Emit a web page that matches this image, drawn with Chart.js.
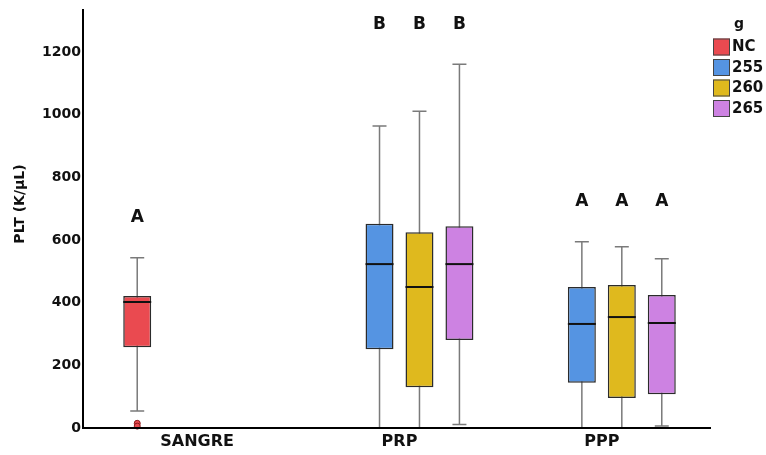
<!DOCTYPE html>
<html>
<head>
<meta charset="utf-8">
<script src="https://cdn.jsdelivr.net/npm/chart.js@4.4.0/dist/chart.umd.min.js"></script>
<style>
  html, body { margin: 0; padding: 0; background: #fff; }
</style>
</head>
<body>
<canvas id="myChart" width="766" height="455"></canvas>
<script>
// categories on the x axis and the four groups (legend "g")
var categories = ['SANGRE', 'PRP', 'PPP'];
var groups = ['NC', '255', '260', '265'];
var yTicks = [0, 200, 400, 600, 800, 1000, 1200];

// box stats per category: [min, q1, median, q3, max], null = no box
var statsNC  = [[54, 258, 402, 421, 543], null, null];
var stats255 = [null, [0, 251, 523, 652, 964], [0, 144, 332, 450, 594]];
var stats260 = [null, [0, 130, 450, 625, 1011], [0, 96, 354, 456, 578]];
var stats265 = [null, [11, 281, 523, 644, 1161], [6, 108, 335, 424, 540]];

var outliersNC = [[15, 6], [], []];

// significance letters above each box
var lettersNC  = ['A', '', ''];
var letters255 = ['', 'B', 'A'];
var letters260 = ['', 'B', 'A'];
var letters265 = ['', 'B', 'A'];

var FONT = '"DejaVu Sans", sans-serif';

function makeSet(label, stats, color, letters, outliers) {
	return {
		label: label,
		data: stats.map(function (s) { return s ? [s[1], s[3]] : null; }),
		stats: stats,
		letters: letters,
		outliers: outliers || [[], [], []],
		backgroundColor: color,
		borderColor: '#2b2b2b',
		borderWidth: 1.5,
		borderSkipped: false,
		categoryPercentage: 0.79,
		barPercentage: 0.7
	};
}

var boxPlot = {
	id: 'boxPlot',
	beforeDatasetsDraw: function (chart) {
		var ctx = chart.ctx, y = chart.scales.y;
		ctx.save();
		ctx.strokeStyle = '#7a7a7a';
		ctx.lineWidth = 1.5;
		chart.data.datasets.forEach(function (ds, di) {
			var meta = chart.getDatasetMeta(di);
			ds.stats.forEach(function (s, i) {
				if (!s) return;
				var bar = meta.data[i];
				var cap = bar.width / 4;
				ctx.beginPath();
				ctx.moveTo(bar.x, y.getPixelForValue(s[0]));
				ctx.lineTo(bar.x, y.getPixelForValue(s[4]));
				[s[0], s[4]].forEach(function (v) {
					var py = y.getPixelForValue(v);
					ctx.moveTo(bar.x - cap, py);
					ctx.lineTo(bar.x + cap, py);
				});
				ctx.stroke();
			});
		});
		ctx.restore();
	},
	afterDatasetsDraw: function (chart) {
		var ctx = chart.ctx, y = chart.scales.y;
		ctx.save();
		// medians and outliers
		chart.data.datasets.forEach(function (ds, di) {
			var meta = chart.getDatasetMeta(di);
			ds.stats.forEach(function (s, i) {
				if (!s) return;
				var bar = meta.data[i];
				var py = y.getPixelForValue(s[2]);
				ctx.strokeStyle = '#111';
				ctx.lineWidth = 2;
				ctx.beginPath();
				ctx.moveTo(bar.x - bar.width / 2, py);
				ctx.lineTo(bar.x + bar.width / 2, py);
				ctx.stroke();
				ds.outliers[i].forEach(function (v) {
					ctx.beginPath();
					ctx.arc(bar.x, y.getPixelForValue(v), 3, 0, Math.PI * 2);
					ctx.fillStyle = ds.backgroundColor;
					ctx.fill();
					ctx.lineWidth = 1;
					ctx.strokeStyle = '#8a1a1a';
					ctx.stroke();
				});
			});
		});
		// letters: 40px above the highest whisker of each category
		ctx.fillStyle = '#111';
		ctx.font = 'bold 17px ' + FONT;
		ctx.textAlign = 'center';
		ctx.textBaseline = 'middle';
		categories.forEach(function (c, i) {
			var top = Infinity;
			chart.data.datasets.forEach(function (ds) {
				if (ds.stats[i]) top = Math.min(top, y.getPixelForValue(ds.stats[i][4]));
			});
			chart.data.datasets.forEach(function (ds, di) {
				if (!ds.letters[i]) return;
				var bar = chart.getDatasetMeta(di).data[i];
				ctx.fillText(ds.letters[i], bar.x, top - 40);
			});
		});
		ctx.restore();
	},
	afterDraw: function (chart) {
		var ctx = chart.ctx, a = chart.chartArea;
		ctx.save();
		// axis lines
		ctx.strokeStyle = '#000';
		ctx.lineWidth = 2;
		ctx.beginPath();
		ctx.moveTo(a.left - 13, a.top);
		ctx.lineTo(a.left - 13, a.bottom);
		ctx.lineTo(a.right + 8, a.bottom);
		ctx.stroke();
		// y axis title
		ctx.fillStyle = '#111';
		ctx.font = 'bold 14px ' + FONT;
		ctx.textAlign = 'center';
		ctx.textBaseline = 'middle';
		ctx.translate(20, 204);
		ctx.rotate(-Math.PI / 2);
		ctx.fillText('PLT (K/μL)', 0, 0);
		ctx.setTransform(1, 0, 0, 1, 0, 0);
		// legend
		ctx.fillText('g', 739, 24);
		ctx.textAlign = 'left';
		ctx.font = 'bold 15px ' + FONT;
		chart.data.datasets.forEach(function (ds, i) {
			var cy = 46.5 + i * 20.5;
			ctx.fillStyle = ds.backgroundColor;
			ctx.fillRect(713, cy - 8, 17, 17);
			ctx.strokeStyle = '#444';
			ctx.lineWidth = 1;
			ctx.strokeRect(713.5, cy - 7.5, 16, 16);
			ctx.fillStyle = '#111';
			ctx.fillText(ds.label, 732, cy + 1);
		});
		ctx.restore();
	}
};

var ctx = document.getElementById('myChart').getContext('2d');

new Chart(ctx, {
	type: 'bar',
	data: {
		labels: categories,
		datasets: [
			makeSet(groups[0], statsNC, '#ea4a50', lettersNC, outliersNC),
			makeSet(groups[1], stats255, '#5594e2', letters255),
			makeSet(groups[2], stats260, '#dfb91e', letters260),
			makeSet(groups[3], stats265, '#cd82e2', letters265)
		]
	},
	options: {
		responsive: false,
		animation: false,
		devicePixelRatio: 1,
		layout: { padding: { top: 9, right: 63, left: 0, bottom: 0 } },
		plugins: { legend: { display: false }, tooltip: { enabled: false } },
		scales: {
			x: {
				grid: { display: false, drawTicks: false },
				border: { display: false },
				ticks: { color: '#111', padding: 4, font: { family: FONT, size: 16, weight: 'bold' } },
				afterFit: function (s) {
					s.height = 27;
					s.paddingLeft = 0;
					s.paddingRight = 0;
				}
			},
			y: {
				min: 0,
				max: 1337,
				grid: { display: false, drawTicks: false },
				border: { display: false },
				ticks: {
					color: '#111',
					padding: 15,
					font: { family: FONT, size: 14, weight: 'bold' },
					callback: function (v) { return String(v); }
				},
				afterBuildTicks: function (axis) {
					axis.ticks = yTicks.map(function (v) { return { value: v }; });
				},
				afterFit: function (s) {
					s.width = 96;
					s.paddingTop = 0;
					s.paddingBottom = 0;
				}
			}
		}
	},
	plugins: [boxPlot]
});
</script>
</body>
</html>
